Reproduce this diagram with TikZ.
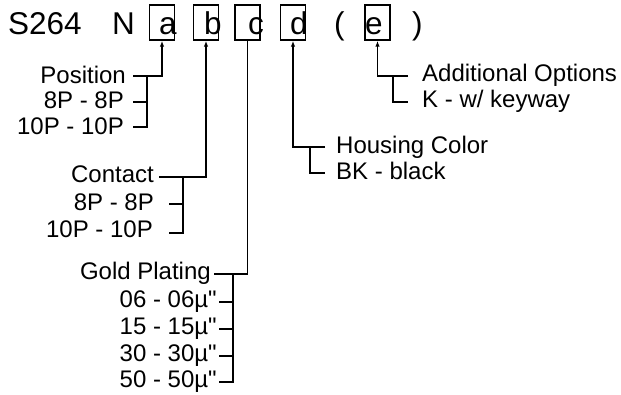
\documentclass[tikz,border=0pt]{standalone}
\usepackage{fontspec}
\setmainfont{Liberation Sans}
\usetikzlibrary{arrows.meta}
\begin{document}
\begin{tikzpicture}[x=1pt,y=-1pt,
  lbl/.style={inner sep=0pt, font=\fontsize{24}{28}\selectfont},
  big/.style={inner sep=0pt, font=\fontsize{31.5}{36}\selectfont, anchor=base west},
  cbox/.style={draw, line width=1.4pt, minimum width=25pt, minimum height=35pt, inner sep=0pt},
  ln/.style={line width=1.4pt},
  arr/.style={ln, -{Latex[length=6pt,width=4.5pt]}}]
\useasboundingbox (0,0) rectangle (621,394);
% top code
\node[big] (s264) at (8,34.5) {S264};
\node[big] (nN) at (112,34.5) {N};
\node[cbox] (bxa) at (162,22.5) {};
\node[cbox] (bxb) at (206,22.5) {};
\node[cbox] (bxc) at (247.5,22.5) {};
\node[cbox] (bxd) at (293,22.5) {};
\node[cbox] (bxe) at (377.5,22.5) {};
\node[big] (la) at (159,34.5) {a};
\node[big] (lb) at (204,34.5) {b};
\node[big] (lc) at (248,34.5) {c};
\node[big] (ld) at (290,34.5) {d};
\node[big] (le) at (365,34.5) {e};
\node[big] (lpar) at (334,34.5) {(};
\node[big] (rpar) at (412,34.5) {)};
% Position
\node[lbl,anchor=base east] (tpos) at (126,83) {Position};
\node[lbl,anchor=base east] (tpos1) at (124,108) {8P - 8P};
\node[lbl,anchor=base east] (tpos2) at (124,134) {10P - 10P};
\coordinate (pa0) at (133,76);
\coordinate (pa1) at (133,102);
\coordinate (pa2) at (133,127);
\coordinate (pav) at (147,76);
\draw[arr] (pa0) -| (bxa.south);
\draw[ln] (pav) |- (pa2);
\draw[ln] (pa1) -- (pa1-|pav);
% Contact
\node[lbl,anchor=base east] (tcon) at (154,182) {Contact};
\node[lbl,anchor=base east] (tcon1) at (154,210) {8P - 8P};
\node[lbl,anchor=base east] (tcon2) at (153,237) {10P - 10P};
\coordinate (pb0) at (159,177);
\coordinate (pb1) at (169,204);
\coordinate (pb2) at (169,233);
\coordinate (pbv) at (183,177);
\draw[arr] (pb0) -| (bxb.south);
\draw[ln] (pbv) |- (pb2);
\draw[ln] (pb1) -- (pb1-|pbv);
% Gold Plating
\node[lbl,anchor=base east] (tgp) at (211,279) {Gold Plating};
\node[lbl,anchor=base east] (tgp1) at (217,307) {06 - 06µ\textquotedbl};
\node[lbl,anchor=base east] (tgp2) at (217,334) {15 - 15µ\textquotedbl};
\node[lbl,anchor=base east] (tgp3) at (217,361) {30 - 30µ\textquotedbl};
\node[lbl,anchor=base east] (tgp4) at (217,387) {50 - 50µ\textquotedbl};
\coordinate (pc0) at (214,274);
\coordinate (pc1) at (219,302);
\coordinate (pc2) at (219,329);
\coordinate (pc3) at (219,356);
\coordinate (pc4) at (219,382);
\coordinate (pcv) at (233,274);
\draw[ln] (pc0) -| (bxc.south);
\draw[ln] (pcv) |- (pc4);
\draw[ln] (pc1) -- (pc1-|pcv);
\draw[ln] (pc2) -- (pc2-|pcv);
\draw[ln] (pc3) -- (pc3-|pcv);
% Housing Color
\node[lbl,anchor=base west] (thc) at (336,153) {Housing Color};
\node[lbl,anchor=base west] (thc1) at (336,179) {BK - black};
\coordinate (pd0) at (325,147);
\coordinate (pd1) at (325,173);
\coordinate (pdv) at (310,147);
\draw[arr] (pd0) -| (bxd.south);
\draw[ln] (pdv) |- (pd1);
% Additional Options
\node[lbl,anchor=base west] (tao) at (422,81) {Additional Options};
\node[lbl,anchor=base west] (tao1) at (422,107) {K - w/ keyway};
\coordinate (pe0) at (408,76);
\coordinate (pe1) at (408,102);
\coordinate (pev) at (393,76);
\draw[arr] (pe0) -| (bxe.south);
\draw[ln] (pev) |- (pe1);
\end{tikzpicture}
\end{document}
